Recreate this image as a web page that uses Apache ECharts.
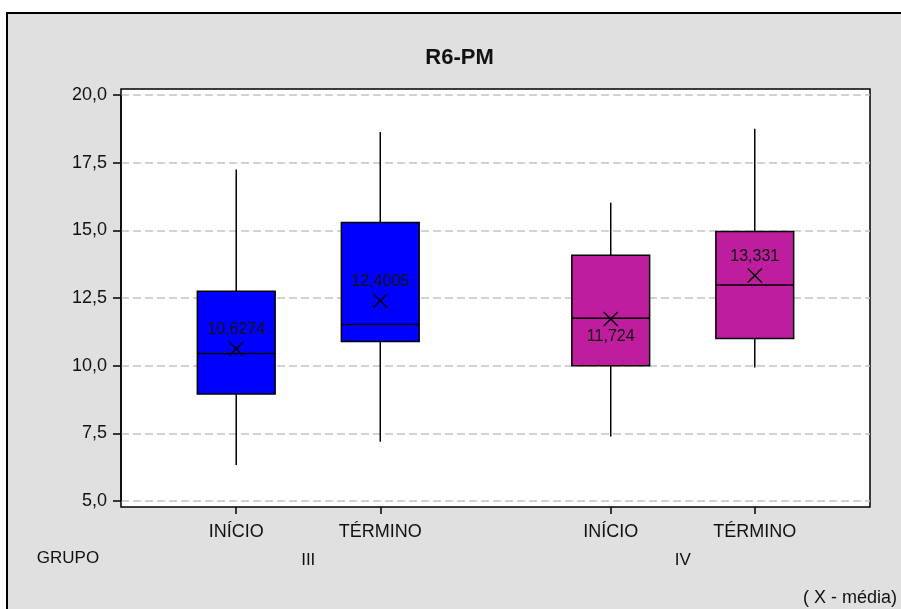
<!DOCTYPE html>
<html>
<head>
<meta charset="utf-8">
<script src="https://cdn.jsdelivr.net/npm/echarts@6/dist/echarts.min.js"></script>
<style>html,body{margin:0;padding:0;background:#fff;}#c{width:901px;height:609px;}</style>
</head>
<body>
<div id="c"></div>
<script>
// ---- data ----
const title = 'R6-PM';
const categories = ['INÍCIO', 'TÉRMINO', 'INÍCIO', 'TÉRMINO'];
const groups = ['III', 'IV'];
const groupOf = [0, 0, 1, 1];
const whiskerLow = [6.33, 7.19, 7.38, 9.93];
const q1 = [8.95, 10.89, 10.0, 11.0];
const median = [10.45, 11.52, 11.75, 12.98];
const q3 = [12.75, 15.29, 14.08, 14.96];
const whiskerHigh = [17.25, 18.63, 16.02, 18.75];
const means = [10.6274, 12.4005, 11.724, 13.331];
const groupLabelTitle = 'GRUPO';
const footnote = '( X - média)';

// ---- layout / style ----
const FONT = "'Liberation Sans', Arial, sans-serif";
const NARROW = "'Liberation Sans Narrow', 'Liberation Sans', Arial, sans-serif";
const groupColors = ['#0000FF', '#BE1E9E'];
const labelSide = ['top', 'top', 'bottom', 'top'];
const groupGap = 0.6;
const xPos = categories.map((c, i) => 1 + i + groupOf[i] * groupGap);
const groupCenters = groups.map((g, gi) => {
  const xs = xPos.filter((x, i) => groupOf[i] === gi);
  return (Math.min(...xs) + Math.max(...xs)) / 2;
});
const XMIN = 0.2, XMAX = 5.4;
const BOX_W = 0.54;

const data = categories.map((c, i) => [xPos[i], whiskerLow[i], q1[i], median[i], q3[i], whiskerHigh[i], means[i], groupOf[i], i]);

const fmt = v => String(v).replace('.', ',');

const chart = echarts.init(document.getElementById('c'), null, {renderer: 'canvas'});

function renderItem(params, api) {
  const x = api.value(0);
  const i = api.value(8);
  const g = api.value(7);
  const pLow = api.coord([x, api.value(1)]);
  const pQ1 = api.coord([x, api.value(2)]);
  const pMed = api.coord([x, api.value(3)]);
  const pQ3 = api.coord([x, api.value(4)]);
  const pHigh = api.coord([x, api.value(5)]);
  const pMean = api.coord([x, api.value(6)]);
  const w = api.size([BOX_W, 0])[0];
  const cx = pMed[0];
  const line = {stroke: '#000', lineWidth: 1.5};
  const m = 7;
  const side = labelSide[i];
  return {
    type: 'group',
    children: [
      {type: 'line', shape: {x1: cx, y1: pLow[1], x2: cx, y2: pQ1[1]}, style: line},
      {type: 'line', shape: {x1: cx, y1: pQ3[1], x2: cx, y2: pHigh[1]}, style: line},
      {type: 'rect', shape: {x: cx - w / 2, y: pQ3[1], width: w, height: pQ1[1] - pQ3[1]},
        style: {fill: groupColors[g], stroke: '#000', lineWidth: 1.5}},
      {type: 'line', shape: {x1: cx - w / 2, y1: pMed[1], x2: cx + w / 2, y2: pMed[1]}, style: line},
      {type: 'line', shape: {x1: pMean[0] - m, y1: pMean[1] - m, x2: pMean[0] + m, y2: pMean[1] + m}, style: line},
      {type: 'line', shape: {x1: pMean[0] - m, y1: pMean[1] + m, x2: pMean[0] + m, y2: pMean[1] - m}, style: line},
      {type: 'text', style: {
        text: fmt(api.value(6)), x: pMean[0], y: pMean[1] + (side === 'top' ? -19 : 18),
        textAlign: 'center', textVerticalAlign: 'middle', fill: '#111', font: '16px ' + NARROW}}
    ]
  };
}

const option = {
  backgroundColor: '#fff',
  animation: false,
  graphic: [
    {type: 'rect', z: -10, shape: {x: 7, y: 13, width: 910, height: 610},
      style: {fill: '#E0E0E0', stroke: '#000', lineWidth: 2}},
    {type: 'text', x: 459.5, y: 58, style: {text: title, textAlign: 'center', textVerticalAlign: 'middle',
      font: 'bold 22px ' + FONT, fill: '#111'}},
    {type: 'text', x: 68, y: 558, style: {text: groupLabelTitle, textAlign: 'center', textVerticalAlign: 'middle',
      font: '17px ' + FONT, fill: '#111'}},
    {type: 'text', x: 897, y: 598, style: {text: footnote, textAlign: 'right', textVerticalAlign: 'middle',
      font: '18px ' + FONT, fill: '#111'}}
  ],
  grid: [
    {left: 121, top: 89, width: 749, height: 418, show: true, backgroundColor: '#fff', borderColor: '#000', borderWidth: 1.5},
    {left: 121, top: 95, width: 749, height: 406}
  ],
  xAxis: [
    {gridIndex: 0, type: 'value', min: XMIN, max: XMAX, position: 'bottom',
      axisLine: {show: false}, splitLine: {show: false},
      axisTick: {show: true, customValues: xPos, length: 7, lineStyle: {color: '#000', width: 1.5}},
      axisLabel: {show: true, customValues: xPos, margin: 16, color: '#111', fontSize: 18, fontFamily: FONT,
        formatter: v => { const k = xPos.findIndex(p => Math.abs(p - v) < 1e-6); return k >= 0 ? categories[k] : ''; }}},
    {gridIndex: 0, type: 'value', min: XMIN, max: XMAX, position: 'bottom', offset: 33,
      axisLine: {show: false}, splitLine: {show: false}, axisTick: {show: false},
      axisLabel: {show: true, customValues: groupCenters, margin: 12, color: '#111', fontSize: 17, fontFamily: FONT,
        formatter: v => { const k = groupCenters.findIndex(p => Math.abs(p - v) < 1e-6); return k >= 0 ? groups[k] : ''; }}},
    {gridIndex: 1, type: 'value', min: XMIN, max: XMAX, show: false}
  ],
  yAxis: [
    {gridIndex: 0, type: 'value', min: 0, max: 1, show: false},
    {gridIndex: 1, type: 'value', min: 5, max: 20, interval: 2.5,
      axisLine: {show: true, lineStyle: {color: '#000', width: 1.5}},
      axisTick: {show: true, length: 8, lineStyle: {color: '#000', width: 1.5}},
      axisLabel: {margin: 14, color: '#111', fontSize: 18, fontFamily: FONT, formatter: v => v.toFixed(1).replace('.', ',')},
      splitLine: {show: true, lineStyle: {color: '#C4C4C4', width: 1.5, type: [8, 4]}}}
  ],
  series: [{
    type: 'custom', xAxisIndex: 2, yAxisIndex: 1, renderItem: renderItem,
    encode: {x: 0, y: [1, 2, 3, 4, 5, 6]}, data: data, z: 5
  }]
};
chart.setOption(option);
</script>
</body>
</html>
